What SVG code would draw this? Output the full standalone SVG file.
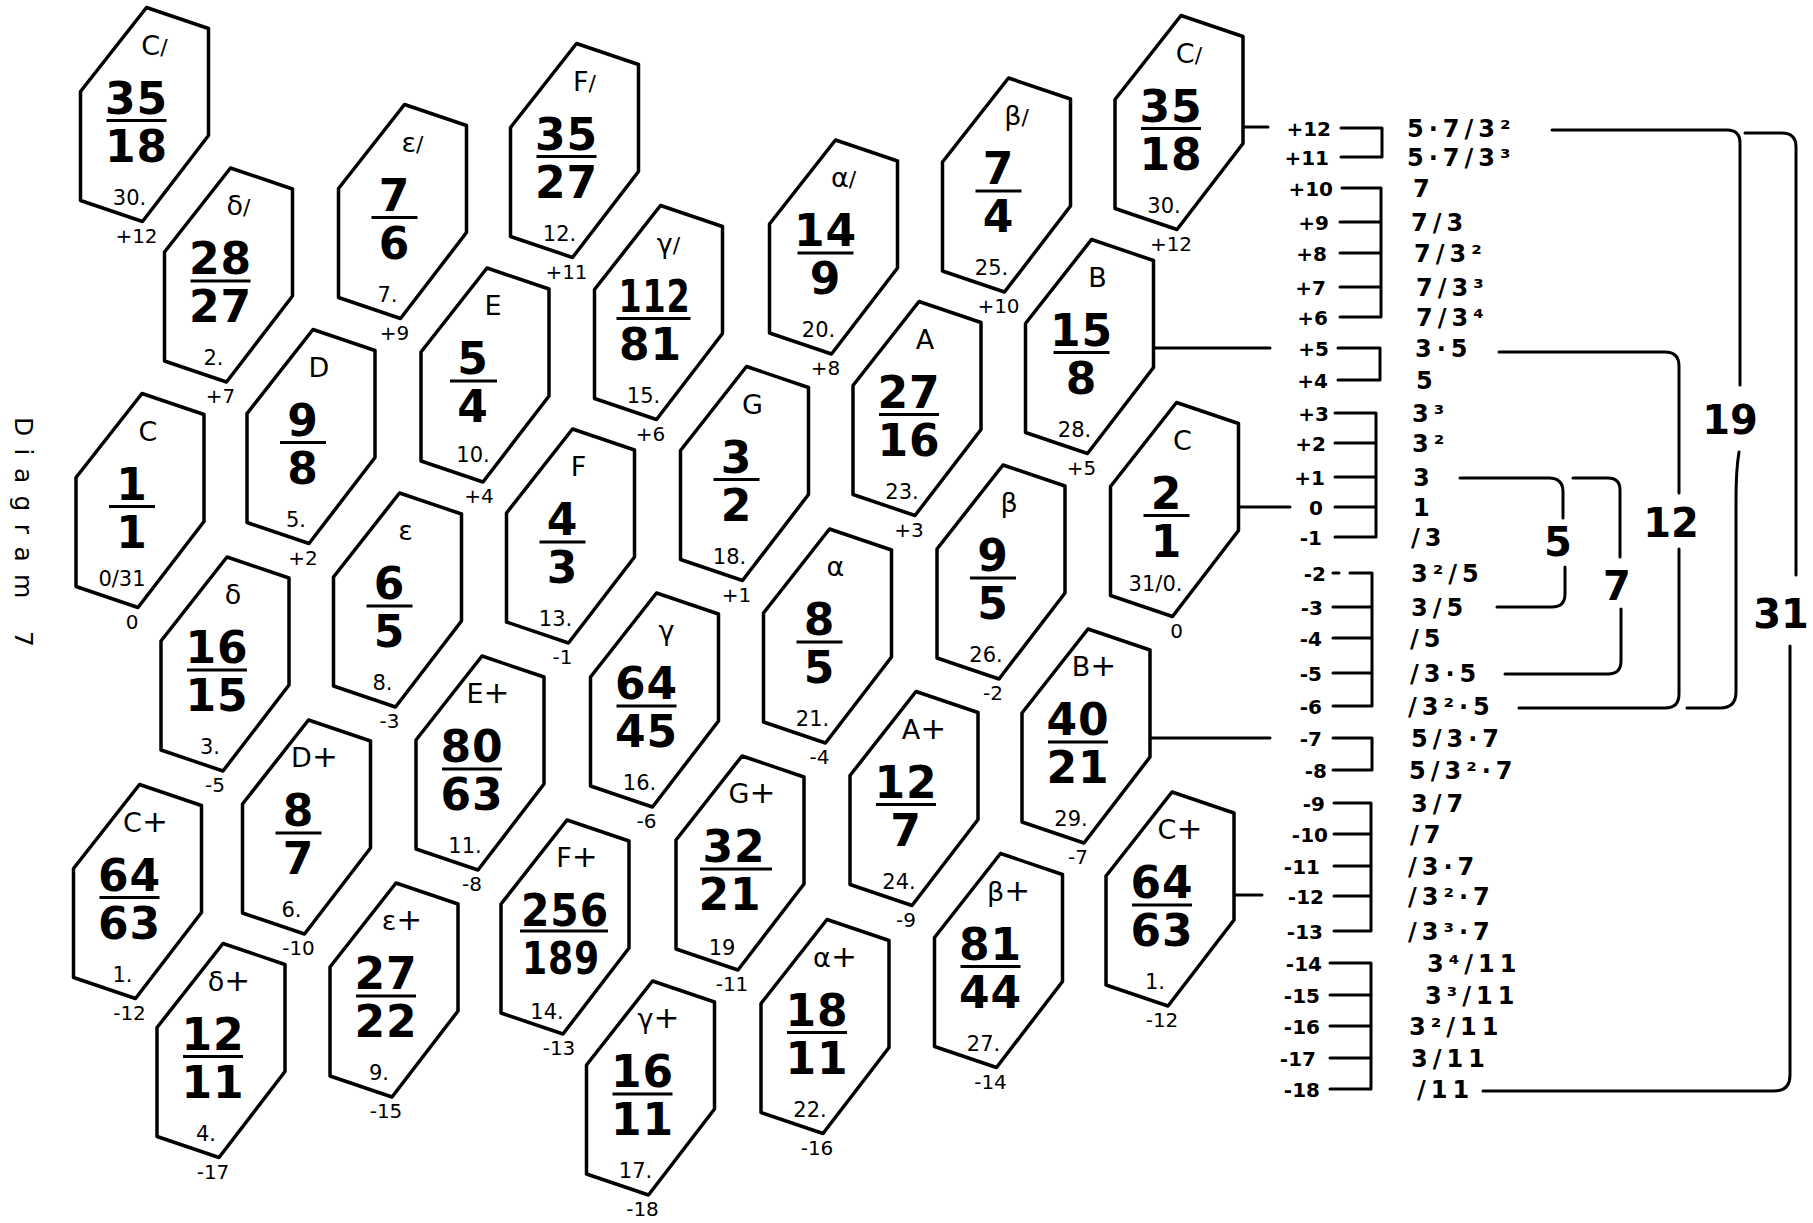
<svg xmlns="http://www.w3.org/2000/svg" xmlns:xlink="http://www.w3.org/1999/xlink" width="1813" height="1223" viewBox="0 0 1813 1223">
<style>
.hx{fill:#fff;stroke:#000;stroke-width:3.5;stroke-linejoin:round}
.fl{stroke:#000;stroke-width:3;fill:none}
.nm{font-family:'DejaVu Sans',sans-serif;font-size:27px;text-anchor:middle}
.sl{font-size:22px}
.sh{font-size:31px}
.fr{font-family:'DejaVu Sans',sans-serif;font-weight:bold;font-size:44px;text-anchor:middle;letter-spacing:1px}
.ix{font-family:'DejaVu Sans',sans-serif;font-size:21px;text-anchor:middle}
.st{font-family:'DejaVu Sans',sans-serif;font-size:20px;text-anchor:middle}
.cn{stroke:#000;stroke-width:3;fill:none;stroke-linecap:round;stroke-linejoin:round}
.sn{font-family:'DejaVu Sans',sans-serif;font-weight:bold;font-size:20px;text-anchor:end}
.rt{font-family:'DejaVu Sans',sans-serif;font-weight:bold;font-size:24px;letter-spacing:5px}
.big{font-family:'DejaVu Sans',sans-serif;font-weight:bold;font-size:40px;text-anchor:middle}
.ttl{font-family:'DejaVu Sans',sans-serif;font-size:25px}
</style>
<defs>
<path id="hx" class="hx" d="M2,-107 L64,-86 L64,21 L-2,107 L-64,86 L-64,-23 Z"/>
</defs>
<rect width="1813" height="1223" fill="#fff"/>

<text class="ttl" transform="translate(15,417) rotate(90)" textLength="230" lengthAdjust="spacing">Diagram 7</text>

<g id="connectors">
<path class="cn" d="M1243,127H1268"/>
<path class="cn" d="M1154,348H1270"/>
<path class="cn" d="M1238,507H1290"/>
<path class="cn" d="M1150,738H1270"/>
<path class="cn" d="M1234,895H1262"/>
<path class="cn" d="M1341,128H1382V157H1341"/>
<path class="cn" d="M1342,188H1381V317H1340M1340,222H1381M1340,253H1381M1340,287H1381"/>
<path class="cn" d="M1338,348H1380V380H1338"/>
<path class="cn" d="M1335,413H1376V537H1335M1335,443H1376M1335,477H1376M1335,507H1376"/>
<path class="cn" d="M1350,573H1372V706H1333M1333,607H1372M1333,638H1372M1333,673H1372M1333,573H1339"/>
<path class="cn" d="M1333,738H1372V770H1333"/>
<path class="cn" d="M1334,803H1371V931H1334M1334,834H1371M1334,866H1371M1334,896H1371"/>
<path class="cn" d="M1330,963H1371V1089H1330M1330,995H1371M1330,1026H1371M1330,1058H1371"/>
<path class="cn" d="M1460,478H1549Q1563,478 1563,492V518"/>
<path class="cn" d="M1565,567V594Q1565,607 1552,607H1497"/>
<path class="cn" d="M1573,478H1608Q1620,478 1620,490V557"/>
<path class="cn" d="M1621,609V661Q1621,674 1608,674H1505"/>
<path class="cn" d="M1499,352H1665Q1679,352 1679,366V493"/>
<path class="cn" d="M1679,549V694Q1679,708 1665,708H1519"/>
<path class="cn" d="M1552,130H1727Q1740,130 1740,143V385"/>
<path class="cn" d="M1739,452Q1736,470 1736,500V692Q1736,708 1720,708H1687"/>
<path class="cn" d="M1745,133H1782Q1796,133 1796,147V575"/>
<path class="cn" d="M1790,646V1075Q1790,1091 1774,1091H1483"/>
</g>

<g id="scale">
<text class="sn" x="1331" y="136">+12</text>
<text class="sn" x="1329" y="165">+11</text>
<text class="sn" x="1333" y="196">+10</text>
<text class="sn" x="1329" y="230">+9</text>
<text class="sn" x="1327" y="261">+8</text>
<text class="sn" x="1326" y="295">+7</text>
<text class="sn" x="1328" y="325">+6</text>
<text class="sn" x="1329" y="356">+5</text>
<text class="sn" x="1328" y="388">+4</text>
<text class="sn" x="1329" y="421">+3</text>
<text class="sn" x="1326" y="451">+2</text>
<text class="sn" x="1325" y="485">+1</text>
<text class="sn" x="1323" y="515">0</text>
<text class="sn" x="1322" y="545">-1</text>
<text class="sn" x="1326" y="581">-2</text>
<text class="sn" x="1323" y="615">-3</text>
<text class="sn" x="1322" y="646">-4</text>
<text class="sn" x="1322" y="681">-5</text>
<text class="sn" x="1322" y="714">-6</text>
<text class="sn" x="1322" y="746">-7</text>
<text class="sn" x="1327" y="778">-8</text>
<text class="sn" x="1325" y="811">-9</text>
<text class="sn" x="1328" y="842">-10</text>
<text class="sn" x="1320" y="874">-11</text>
<text class="sn" x="1324" y="904">-12</text>
<text class="sn" x="1323" y="939">-13</text>
<text class="sn" x="1322" y="971">-14</text>
<text class="sn" x="1320" y="1003">-15</text>
<text class="sn" x="1320" y="1034">-16</text>
<text class="sn" x="1316" y="1066">-17</text>
<text class="sn" x="1320" y="1097">-18</text>

<text class="rt" x="1407" y="137">5·7/3²</text>
<text class="rt" x="1407" y="166">5·7/3³</text>
<text class="rt" x="1413" y="197">7</text>
<text class="rt" x="1411" y="231">7/3</text>
<text class="rt" x="1414" y="262">7/3²</text>
<text class="rt" x="1416" y="296">7/3³</text>
<text class="rt" x="1416" y="326">7/3⁴</text>
<text class="rt" x="1415" y="357">3·5</text>
<text class="rt" x="1416" y="389">5</text>
<text class="rt" x="1412" y="422">3³</text>
<text class="rt" x="1412" y="452">3²</text>
<text class="rt" x="1413" y="486">3</text>
<text class="rt" x="1413" y="516">1</text>
<text class="rt" x="1411" y="546">/3</text>
<text class="rt" x="1411" y="582">3²/5</text>
<text class="rt" x="1411" y="616">3/5</text>
<text class="rt" x="1410" y="647">/5</text>
<text class="rt" x="1410" y="682">/3·5</text>
<text class="rt" x="1408" y="715">/3²·5</text>
<text class="rt" x="1411" y="747">5/3·7</text>
<text class="rt" x="1409" y="779">5/3²·7</text>
<text class="rt" x="1411" y="812">3/7</text>
<text class="rt" x="1410" y="843">/7</text>
<text class="rt" x="1408" y="875">/3·7</text>
<text class="rt" x="1408" y="905">/3²·7</text>
<text class="rt" x="1408" y="940">/3³·7</text>
<text class="rt" x="1427" y="972">3⁴/11</text>
<text class="rt" x="1425" y="1004">3³/11</text>
<text class="rt" x="1409" y="1035">3²/11</text>
<text class="rt" x="1411" y="1067">3/11</text>
<text class="rt" x="1417" y="1098">/11</text>

<text class="big" x="1558" y="556">5</text>
<text class="big" x="1617" y="600">7</text>
<text class="big" x="1671" y="537">12</text>
<text class="big" x="1730" y="434">19</text>
<text class="big" x="1781" y="628">31</text>
</g>

<g id="n01" transform="translate(144.5,114.5)"><use href="#hx"/><text class="nm" x="10" y="-60">C<tspan class="sl">/</tspan></text><text class="fr" x="-8" y="-1">35</text><path class="fl" d="M-38,6H22"/><text class="fr" x="-8" y="47">18</text><text class="ix" x="-15" y="90">30.</text><text class="st" x="-8" y="128">+12</text></g>
<g id="n02" transform="translate(228.5,275)"><use href="#hx"/><text class="nm" x="10" y="-60">δ<tspan class="sl">/</tspan></text><text class="fr" x="-8" y="-1">28</text><path class="fl" d="M-38,6H22"/><text class="fr" x="-8" y="47">27</text><text class="ix" x="-15" y="90">2.</text><text class="st" x="-8" y="128">+7</text></g>
<g id="n03" transform="translate(402.5,211.5)"><use href="#hx"/><text class="nm" x="10" y="-60">ε<tspan class="sl">/</tspan></text><text class="fr" x="-8" y="-1">7</text><path class="fl" d="M-31,6H15"/><text class="fr" x="-8" y="47">6</text><text class="ix" x="-15" y="90">7.</text><text class="st" x="-8" y="128">+9</text></g>
<g id="n04" transform="translate(574.5,150.5)"><use href="#hx"/><text class="nm" x="10" y="-60">F<tspan class="sl">/</tspan></text><text class="fr" x="-8" y="-1">35</text><path class="fl" d="M-38,6H22"/><text class="fr" x="-8" y="47">27</text><text class="ix" x="-15" y="90">12.</text><text class="st" x="-8" y="128">+11</text></g>
<g id="n05" transform="translate(658.5,312.5)"><use href="#hx"/><text class="nm" x="10" y="-60">γ<tspan class="sl">/</tspan></text><text class="fr" x="-4" y="-1" textLength="72" lengthAdjust="spacingAndGlyphs">112</text><path class="fl" d="M-42,6H32"/><text class="fr" x="-8" y="47">81</text><text class="ix" x="-15" y="90">15.</text><text class="st" x="-8" y="128">+6</text></g>
<g id="n06" transform="translate(833.5,247)"><use href="#hx"/><text class="nm" x="10" y="-60">α<tspan class="sl">/</tspan></text><text class="fr" x="-8" y="-1">14</text><path class="fl" d="M-36,6H20"/><text class="fr" x="-8" y="47">9</text><text class="ix" x="-15" y="90">20.</text><text class="st" x="-8" y="128">+8</text></g>
<g id="n07" transform="translate(1006.5,185)"><use href="#hx"/><text class="nm" x="10" y="-60">β<tspan class="sl">/</tspan></text><text class="fr" x="-8" y="-1">7</text><path class="fl" d="M-31,6H15"/><text class="fr" x="-8" y="47">4</text><text class="ix" x="-15" y="90">25.</text><text class="st" x="-8" y="128">+10</text></g>
<g id="n08" transform="translate(1179,122.5)"><use href="#hx"/><text class="nm" x="10" y="-60">C<tspan class="sl">/</tspan></text><text class="fr" x="-8" y="-1">35</text><path class="fl" d="M-38,6H22"/><text class="fr" x="-8" y="47">18</text><text class="ix" x="-15" y="90">30.</text><text class="st" x="-8" y="128">+12</text></g>

<g id="n09" transform="translate(140,500.5)"><use href="#hx"/><text class="nm" x="8" y="-60">C</text><text class="fr" x="-8" y="-1">1</text><path class="fl" d="M-31,6H15"/><text class="fr" x="-8" y="47">1</text><text class="ix" x="-18" y="85">0/31</text><text class="st" x="-8" y="128">0</text></g>
<g id="n10" transform="translate(311,436.5)"><use href="#hx"/><text class="nm" x="8" y="-60">D</text><text class="fr" x="-8" y="-1">9</text><path class="fl" d="M-31,6H15"/><text class="fr" x="-8" y="47">8</text><text class="ix" x="-15" y="90">5.</text><text class="st" x="-8" y="128">+2</text></g>
<g id="n11" transform="translate(485,375)"><use href="#hx"/><text class="nm" x="8" y="-60">E</text><text class="fr" x="-12" y="-1">5</text><path class="fl" d="M-35,6H12"/><text class="fr" x="-12" y="47">4</text><text class="ix" x="-12" y="87">10.</text><text class="st" x="-6" y="128">+4</text></g>
<g id="n12" transform="translate(570.5,536)"><use href="#hx"/><text class="nm" x="8" y="-60">F</text><text class="fr" x="-8" y="-1">4</text><path class="fl" d="M-31,6H15"/><text class="fr" x="-8" y="47">3</text><text class="ix" x="-15" y="90">13.</text><text class="st" x="-8" y="128">-1</text></g>
<g id="n13" transform="translate(744.5,473.5)"><use href="#hx"/><text class="nm" x="8" y="-60">G</text><text class="fr" x="-8" y="-1">3</text><path class="fl" d="M-31,6H15"/><text class="fr" x="-8" y="47">2</text><text class="ix" x="-15" y="90">18.</text><text class="st" x="-8" y="128">+1</text></g>
<g id="n14" transform="translate(917,408.5)"><use href="#hx"/><text class="nm" x="8" y="-60">A</text><text class="fr" x="-8" y="-1">27</text><path class="fl" d="M-38,6H22"/><text class="fr" x="-8" y="47">16</text><text class="ix" x="-15" y="90">23.</text><text class="st" x="-8" y="128">+3</text></g>
<g id="n15" transform="translate(1089.5,346.5)"><use href="#hx"/><text class="nm" x="8" y="-60">B</text><text class="fr" x="-8" y="-1">15</text><path class="fl" d="M-36,6H20"/><text class="fr" x="-8" y="47">8</text><text class="ix" x="-15" y="90">28.</text><text class="st" x="-8" y="128">+5</text></g>
<g id="n16" transform="translate(1174.5,509.5)"><use href="#hx"/><text class="nm" x="8" y="-60">C</text><text class="fr" x="-8" y="-1">2</text><path class="fl" d="M-31,6H15"/><text class="fr" x="-8" y="47">1</text><text class="ix" x="-19" y="81">31/0.</text><text class="st" x="2" y="128">0</text></g>

<g id="n17" transform="translate(225,664)"><use href="#hx"/><text class="nm" x="8" y="-60">δ</text><text class="fr" x="-8" y="-1">16</text><path class="fl" d="M-38,6H22"/><text class="fr" x="-8" y="47">15</text><text class="ix" x="-15" y="90">3.</text><text class="st" x="-10" y="128">-5</text></g>
<g id="n18" transform="translate(397.5,600)"><use href="#hx"/><text class="nm" x="8" y="-60">ε</text><text class="fr" x="-8" y="-1">6</text><path class="fl" d="M-31,6H15"/><text class="fr" x="-8" y="47">5</text><text class="ix" x="-15" y="90">8.</text><text class="st" x="-8" y="128">-3</text></g>
<g id="n19" transform="translate(480,763)"><use href="#hx"/><text class="nm" x="8" y="-60">E<tspan class="sh">+</tspan></text><text class="fr" x="-8" y="-1">80</text><path class="fl" d="M-38,6H22"/><text class="fr" x="-8" y="47">63</text><text class="ix" x="-15" y="90">11.</text><text class="st" x="-8" y="128">-8</text></g>
<g id="n20" transform="translate(654.5,700)"><use href="#hx"/><text class="nm" x="12" y="-60">γ</text><text class="fr" x="-8" y="-1">64</text><path class="fl" d="M-38,6H22"/><text class="fr" x="-8" y="47">45</text><text class="ix" x="-15" y="90">16.</text><text class="st" x="-8" y="128">-6</text></g>
<g id="n21" transform="translate(827.5,636)"><use href="#hx"/><text class="nm" x="8" y="-60">α</text><text class="fr" x="-8" y="-1">8</text><path class="fl" d="M-31,6H15"/><text class="fr" x="-8" y="47">5</text><text class="ix" x="-15" y="90">21.</text><text class="st" x="-8" y="128">-4</text></g>
<g id="n22" transform="translate(1001,572)"><use href="#hx"/><text class="nm" x="8" y="-60">β</text><text class="fr" x="-8" y="-1">9</text><path class="fl" d="M-31,6H15"/><text class="fr" x="-8" y="47">5</text><text class="ix" x="-15" y="90">26.</text><text class="st" x="-8" y="128">-2</text></g>
<g id="n23" transform="translate(1086,736)"><use href="#hx"/><text class="nm" x="8" y="-60">B<tspan class="sh">+</tspan></text><text class="fr" x="-8" y="-1">40</text><path class="fl" d="M-38,6H22"/><text class="fr" x="-8" y="47">21</text><text class="ix" x="-15" y="90">29.</text><text class="st" x="-8" y="128">-7</text></g>

<g id="n24" transform="translate(137.5,891.5)"><use href="#hx"/><text class="nm" x="8" y="-60">C<tspan class="sh">+</tspan></text><text class="fr" x="-8" y="-1">64</text><path class="fl" d="M-38,6H22"/><text class="fr" x="-8" y="47">63</text><text class="ix" x="-15" y="90">1.</text><text class="st" x="-8" y="128">-12</text></g>
<g id="n25" transform="translate(306.5,827)"><use href="#hx"/><text class="nm" x="8" y="-60">D<tspan class="sh">+</tspan></text><text class="fr" x="-8" y="-1">8</text><path class="fl" d="M-31,6H15"/><text class="fr" x="-8" y="47">7</text><text class="ix" x="-15" y="90">6.</text><text class="st" x="-8" y="128">-10</text></g>
<g id="n26" transform="translate(394,990)"><use href="#hx"/><text class="nm" x="8" y="-60">ε<tspan class="sh">+</tspan></text><text class="fr" x="-8" y="-1">27</text><path class="fl" d="M-38,6H22"/><text class="fr" x="-8" y="47">22</text><text class="ix" x="-15" y="90">9.</text><text class="st" x="-8" y="128">-15</text></g>
<g id="n27" transform="translate(565,927)"><use href="#hx"/><text class="nm" x="12" y="-60">F<tspan class="sh">+</tspan></text><text class="fr" x="0" y="-1" textLength="88" lengthAdjust="spacingAndGlyphs">256</text><path class="fl" d="M-45,4H43"/><text class="fr" x="-4" y="47" textLength="78" lengthAdjust="spacingAndGlyphs">189</text><text class="ix" x="-18" y="92">14.</text><text class="st" x="-6" y="128">-13</text></g>
<g id="n28" transform="translate(740,863)"><use href="#hx"/><text class="nm" x="12" y="-60">G<tspan class="sh">+</tspan></text><text class="fr" x="-6" y="-1">32</text><path class="fl" d="M-40,6H32"/><text class="fr" x="-10" y="47">21</text><text class="ix" x="-18" y="92">19</text><text class="st" x="-8" y="128">-11</text></g>
<g id="n29" transform="translate(914,798.5)"><use href="#hx"/><text class="nm" x="10" y="-60">A<tspan class="sh">+</tspan></text><text class="fr" x="-8" y="-1">12</text><path class="fl" d="M-38,6H22"/><text class="fr" x="-8" y="47">7</text><text class="ix" x="-15" y="90">24.</text><text class="st" x="-8" y="128">-9</text></g>
<g id="n30" transform="translate(998.5,960.5)"><use href="#hx"/><text class="nm" x="10" y="-60">β<tspan class="sh">+</tspan></text><text class="fr" x="-8" y="-1">81</text><path class="fl" d="M-38,6H22"/><text class="fr" x="-8" y="47">44</text><text class="ix" x="-15" y="90">27.</text><text class="st" x="-8" y="128">-14</text></g>
<g id="n31" transform="translate(1170,899)"><use href="#hx"/><text class="nm" x="10" y="-60">C<tspan class="sh">+</tspan></text><text class="fr" x="-8" y="-1">64</text><path class="fl" d="M-38,6H22"/><text class="fr" x="-8" y="47">63</text><text class="ix" x="-15" y="90">1.</text><text class="st" x="-8" y="128">-12</text></g>

<g id="n32" transform="translate(221,1050.5)"><use href="#hx"/><text class="nm" x="8" y="-60">δ<tspan class="sh">+</tspan></text><text class="fr" x="-8" y="-1">12</text><path class="fl" d="M-38,6H22"/><text class="fr" x="-8" y="47">11</text><text class="ix" x="-15" y="90">4.</text><text class="st" x="-8" y="128">-17</text></g>
<g id="n33" transform="translate(650.5,1088)"><use href="#hx"/><text class="nm" x="8" y="-60">γ<tspan class="sh">+</tspan></text><text class="fr" x="-8" y="-1">16</text><path class="fl" d="M-38,6H22"/><text class="fr" x="-8" y="47">11</text><text class="ix" x="-15" y="90">17.</text><text class="st" x="-8" y="128">-18</text></g>
<g id="n34" transform="translate(825,1026.5)"><use href="#hx"/><text class="nm" x="10" y="-60">α<tspan class="sh">+</tspan></text><text class="fr" x="-8" y="-1">18</text><path class="fl" d="M-38,6H22"/><text class="fr" x="-8" y="47">11</text><text class="ix" x="-15" y="90">22.</text><text class="st" x="-8" y="128">-16</text></g>
</svg>
